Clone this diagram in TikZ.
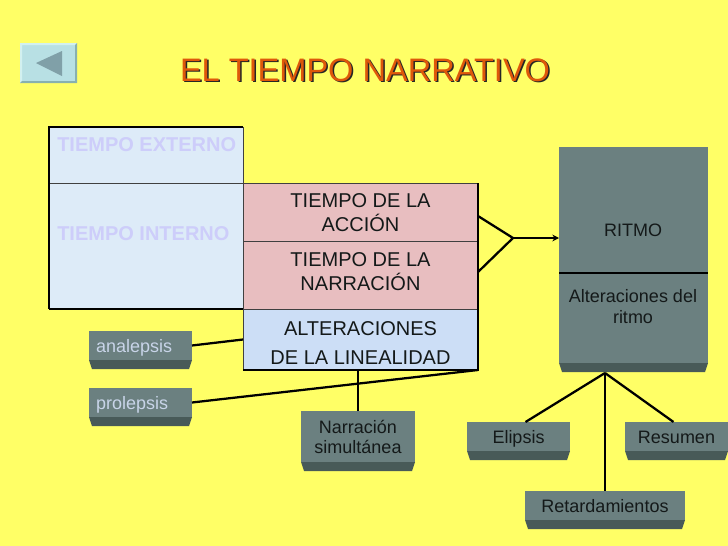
\documentclass[tikz,border=0pt]{standalone}
\usepackage{fontspec}
\setmainfont{Liberation Sans}
\usetikzlibrary{arrows.meta}
\definecolor{slidebg}{RGB}{255,255,102}
\definecolor{titleorange}{RGB}{222,88,10}
\definecolor{panelblue}{RGB}{221,235,248}
\definecolor{panelpink}{RGB}{232,190,192}
\definecolor{panelalter}{RGB}{204,222,246}
\definecolor{lavender}{RGB}{205,205,250}
\definecolor{slate}{RGB}{107,128,128}
\definecolor{slatedark}{RGB}{72,90,88}
\definecolor{slatetext}{RGB}{200,212,232}
\definecolor{inktext}{RGB}{20,25,25}
\tikzset{
  panel/.style={anchor=north west,inner sep=0pt,outer sep=0pt,draw=black!75,line width=0.75pt},
  slatebox/.style={anchor=north west,inner sep=0pt,outer sep=0pt,fill=slate,text=inktext,align=center,font=\fontsize{13.5}{15}\selectfont},
  smallbox/.style={slatebox,minimum width=77.25pt,minimum height=21.75pt,text height=13pt,text depth=3pt},
  sidebox/.style={smallbox,text=slatetext,text width=66.75pt,inner xsep=5.25pt,align=flush left},
  bigcaption/.style={inner sep=0pt,text=inktext,align=center,font=\fontsize{15}{18}\selectfont},
  ritmocaption/.style={inner sep=0pt,text=inktext,align=center,font=\fontsize{13.5}{15.75}\selectfont},
  sidecaption/.style={anchor=west,inner sep=0pt,text=lavender,font=\fontsize{15}{18}\selectfont\bfseries},
  link/.style={black,line width=1.7pt},
}
\begin{document}
\begin{tikzpicture}[x=0.75pt,y=0.75pt,yscale=-1,xscale=1]
\useasboundingbox (0,0) rectangle (728,546);
\fill [slidebg] (0,0) rectangle (728,546);

%Back button
\fill [fill={rgb,255:red,184;green,224;blue,228}] (20,43) rectangle (77,83);
\fill [fill={rgb,255:red,210;green,240;blue,240}] (20,83) -- (20,43) -- (77,43) -- (75,45) -- (22,45) -- (22,81) -- cycle;
\fill [fill={rgb,255:red,136;green,176;blue,176}] (20,83) -- (77,83) -- (77,43) -- (75,45) -- (75,81) -- (22,81) -- cycle;
\fill [fill={rgb,255:red,128;green,160;blue,168}] (36,63) -- (62,51) -- (62,76) -- cycle;

% Text Node
\draw (366.5,71.5) node (titleback) [inner sep=0pt,text=black!85,font=\fontsize{24.4}{29}\selectfont] {EL TIEMPO NARRATIVO};
\draw (365,70) node (title) [inner sep=0pt,text=titleorange,font=\fontsize{24.4}{29}\selectfont] {EL TIEMPO NARRATIVO};

%Left panels
\draw (49,127) node (externo) [panel,fill=panelblue,minimum width=145.5pt,minimum height=42pt] {};
\draw (49,183) node (interno) [panel,fill=panelblue,minimum width=145.5pt,minimum height=94.5pt] {};
\draw (243,183) node (accion) [panel,fill=panelpink,minimum width=176.25pt,minimum height=43.5pt] {};
\draw (243,241) node (narracion) [panel,fill=panelpink,minimum width=176.25pt,minimum height=51pt] {};
\draw (243,309) node (alteraciones) [panel,fill=panelalter,minimum width=176.25pt,minimum height=45.75pt] {};
\draw [black,line width=1.25pt] (interno.south west) -- (externo.north west) -- (externo.north east);
\draw [black,line width=1pt] (interno.south west) -- (interno.south east);
\draw [black,line width=1.5pt] (accion.north east) -- (alteraciones.south east) -- (alteraciones.south west);

% Text Node
\draw (57,145) node (externotext) [sidecaption] {TIEMPO EXTERNO};
\draw (57,234) node (internotext) [sidecaption] {TIEMPO INTERNO};
\draw (360.5,213) node (acciontext) [bigcaption] {TIEMPO DE LA\\ACCIÓN};
\draw (360.5,271.5) node (narraciontext) [bigcaption] {TIEMPO DE LA\\NARRACIÓN};
\draw (360.5,343) node (alteracionestext) [bigcaption,font=\fontsize{15}{21.75}\selectfont] {ALTERACIONES\\DE LA LINEALIDAD};

%Right block
\draw (559,147) node (ritmo) [slatebox,minimum width=111.75pt,minimum height=94.5pt] {};
\draw (559,273) node (alterritmo) [slatebox,minimum width=111.75pt,minimum height=67.5pt] {};
\draw [black,line width=1.25pt] (ritmo.south west) -- (ritmo.south east);
\draw (633,230) node (ritmotext) [ritmocaption] {RITMO};
\draw (633,306.5) node (alterritmotext) [ritmocaption] {Alteraciones del\\ritmo};

%Small boxes
\draw (89,331) node (analepsis) [sidebox] {analepsis};
\draw (89,388) node (prolepsis) [sidebox] {prolepsis};
\draw (301,411) node (simultanea) [slatebox,minimum width=85.5pt,minimum height=38.25pt] {Narración\\simultánea};
\draw (467,422) node (elipsis) [smallbox] {Elipsis};
\draw (625,422) node (resumen) [smallbox] {Resumen};
\draw (525,491) node (retardamientos) [smallbox,minimum width=120pt] {Retardamientos};

%Bevels
\foreach \boxname in {analepsis,prolepsis,simultanea,elipsis,resumen,retardamientos,alterritmo}
  \fill [slatedark] (\boxname.south west) -- (\boxname.south east) -- ([shift={(-3,9)}]\boxname.south east) -- ([shift={(3,9)}]\boxname.south west) -- cycle;

%Connectors
\coordinate (join) at (513,238);
\coordinate (apex) at (605,373);
\draw [link] ([shift={(0,4)}]accion.east) -- (join) -- ([shift={(0,-3)}]narracion.east);
\draw [black,line width=1.1pt,-{Stealth[length=5pt,width=5pt]}] (join) -- (join -| ritmo.west);
\draw [link] (analepsis.east) -- (alteraciones.west);
\draw [link] (prolepsis.east) -- (alteraciones.south east);
\draw [link] (simultanea.north) -- (simultanea.north |- alteraciones.south);
\draw [link] (apex) -- ([shift={(7,0)}]elipsis.north);
\draw [link] (apex) -- ([shift={(-3,0)}]resumen.north);
\draw [link] (apex) -- (retardamientos.north);

\end{tikzpicture}
\end{document}
